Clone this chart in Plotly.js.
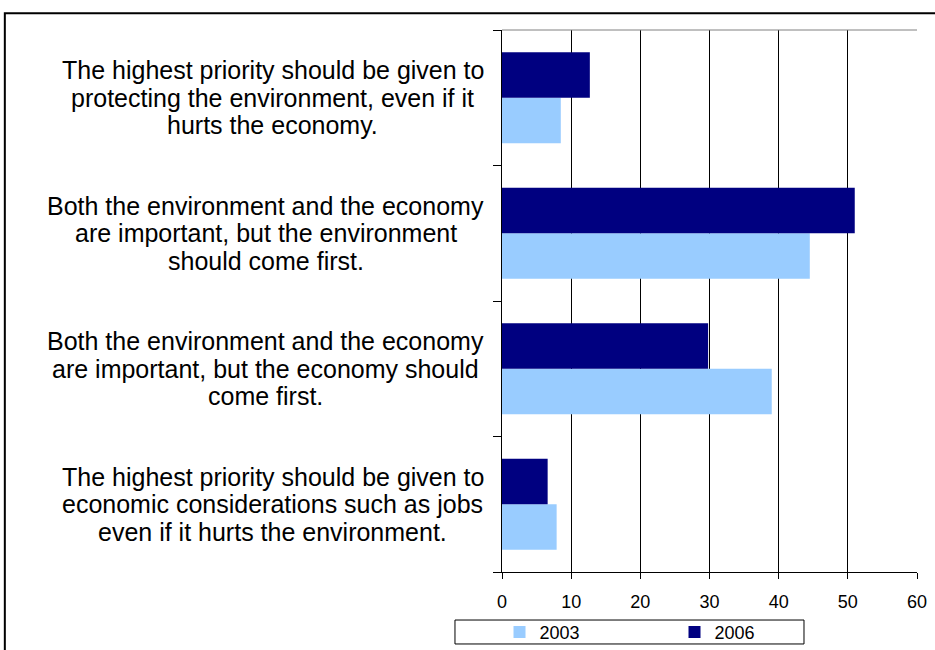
<!DOCTYPE html>
<html>
<head>
<meta charset="utf-8">
<script src="https://cdn.plot.ly/plotly-3.0.1.min.js"></script>
<style>html,body{margin:0;padding:0;background:#fff;}#chart{width:935px;height:650px;}</style>
</head>
<body>
<div id="chart"></div>
<script>
var categories = [
  "The highest priority should be given to<br>protecting the environment, even if it<br>hurts the economy.",
  "Both the environment and the economy<br>are important, but the environment<br>should come first.",
  "Both the environment and the economy<br>are important, but the economy should<br>come first.",
  "The highest priority should be given to<br>economic considerations such as jobs<br>even if it hurts the environment."
];
var seriesNames = ["2003", "2006"];
var values2003 = [8.5, 44.5, 39.0, 7.9];
var values2006 = [12.7, 51.0, 29.8, 6.6];
var xTicks = [0, 10, 20, 30, 40, 50, 60];

var traces = [
  {type: "bar", orientation: "h", name: seriesNames[0], y: categories, x: values2003,
   marker: {color: "#99ccff", line: {width: 0}}, hoverinfo: "x"},
  {type: "bar", orientation: "h", name: seriesNames[1], y: categories, x: values2006,
   marker: {color: "#000080", line: {width: 0}}, hoverinfo: "x"}
];

var LABEL_FONT = 25;
var LINE_STEP = 27.5;
var FAMILY = "Liberation Sans";
var ctx = document.createElement("canvas").getContext("2d");
ctx.font = LABEL_FONT + "px '" + FAMILY + "'";
var W = 935, ML = 502, MR = 18, PW = W - ML - MR;
var rightEdgePx = 484;

var annotations = [];
categories.forEach(function (c) {
  var lines = c.split("<br>");
  var maxW = 0;
  lines.forEach(function (ln) { maxW = Math.max(maxW, ctx.measureText(ln).width); });
  var centerPx = rightEdgePx - maxW / 2;
  var mid = (lines.length - 1) / 2;
  lines.forEach(function (ln, i) {
    annotations.push({xref: "paper", yref: "y", x: (centerPx - ML) / PW, y: c, text: ln,
      showarrow: false, xanchor: "center", yanchor: "middle", align: "center",
      yshift: (mid - i) * LINE_STEP,
      font: {family: FAMILY + ", Arial, sans-serif", size: LABEL_FONT, color: "#000"}});
  });
});

var layout = {
  width: 935, height: 650,
  margin: {l: ML, r: MR, t: 30, b: 78, autoexpand: false},
  paper_bgcolor: "#ffffff", plot_bgcolor: "#ffffff",
  font: {family: "Liberation Sans, Arial, sans-serif", color: "#000"},
  barmode: "group", bargap: 0.33, bargroupgap: 0,
  showlegend: true,
  legend: {orientation: "h", x: -0.006, xanchor: "left", y: -0.077, yanchor: "top",
           bgcolor: "rgba(0,0,0,0)", borderwidth: 0, entrywidth: 130, entrywidthmode: "pixels",
           font: {size: 18, color: "#000"}, traceorder: "normal"},
  xaxis: {range: [0, 60], tickvals: xTicks, ticktext: xTicks.map(String),
          showgrid: true, gridcolor: "#000", gridwidth: 1, zeroline: false,
          showline: true, linecolor: "#000", linewidth: 1,
          ticks: "outside", ticklen: 6, tickcolor: "#000", ticklabelstandoff: 7,
          tickfont: {size: 18, color: "#000"}, fixedrange: true},
  yaxis: {type: "category", categoryorder: "array", categoryarray: categories.slice().reverse(),
          showticklabels: false, ticks: "outside", tickson: "boundaries", ticklen: 8,
          tickcolor: "#000", showline: true, linecolor: "#000", linewidth: 1,
          showgrid: false, zeroline: false, fixedrange: true},
  annotations: annotations,
  shapes: [
    {type: "line", xref: "paper", yref: "paper", x0: 0, x1: 1, y0: 1, y1: 1,
     line: {color: "#808080", width: 1}},
    {type: "rect", xref: "paper", yref: "paper", x0: -1.198, x1: 1.3, y0: -0.3, y1: 1.031,
     line: {color: "#000", width: 2}, fillcolor: "rgba(0,0,0,0)", layer: "below"},
    {type: "rect", xref: "paper", yref: "paper", x0: -0.1133, x1: 0.7277, y0: -0.0886, y1: -0.1328,
     line: {color: "#000", width: 1}, fillcolor: "rgba(0,0,0,0)"}
  ]
};

Plotly.newPlot("chart", traces, layout, {displayModeBar: false, staticPlot: true});
</script>
</body>
</html>
